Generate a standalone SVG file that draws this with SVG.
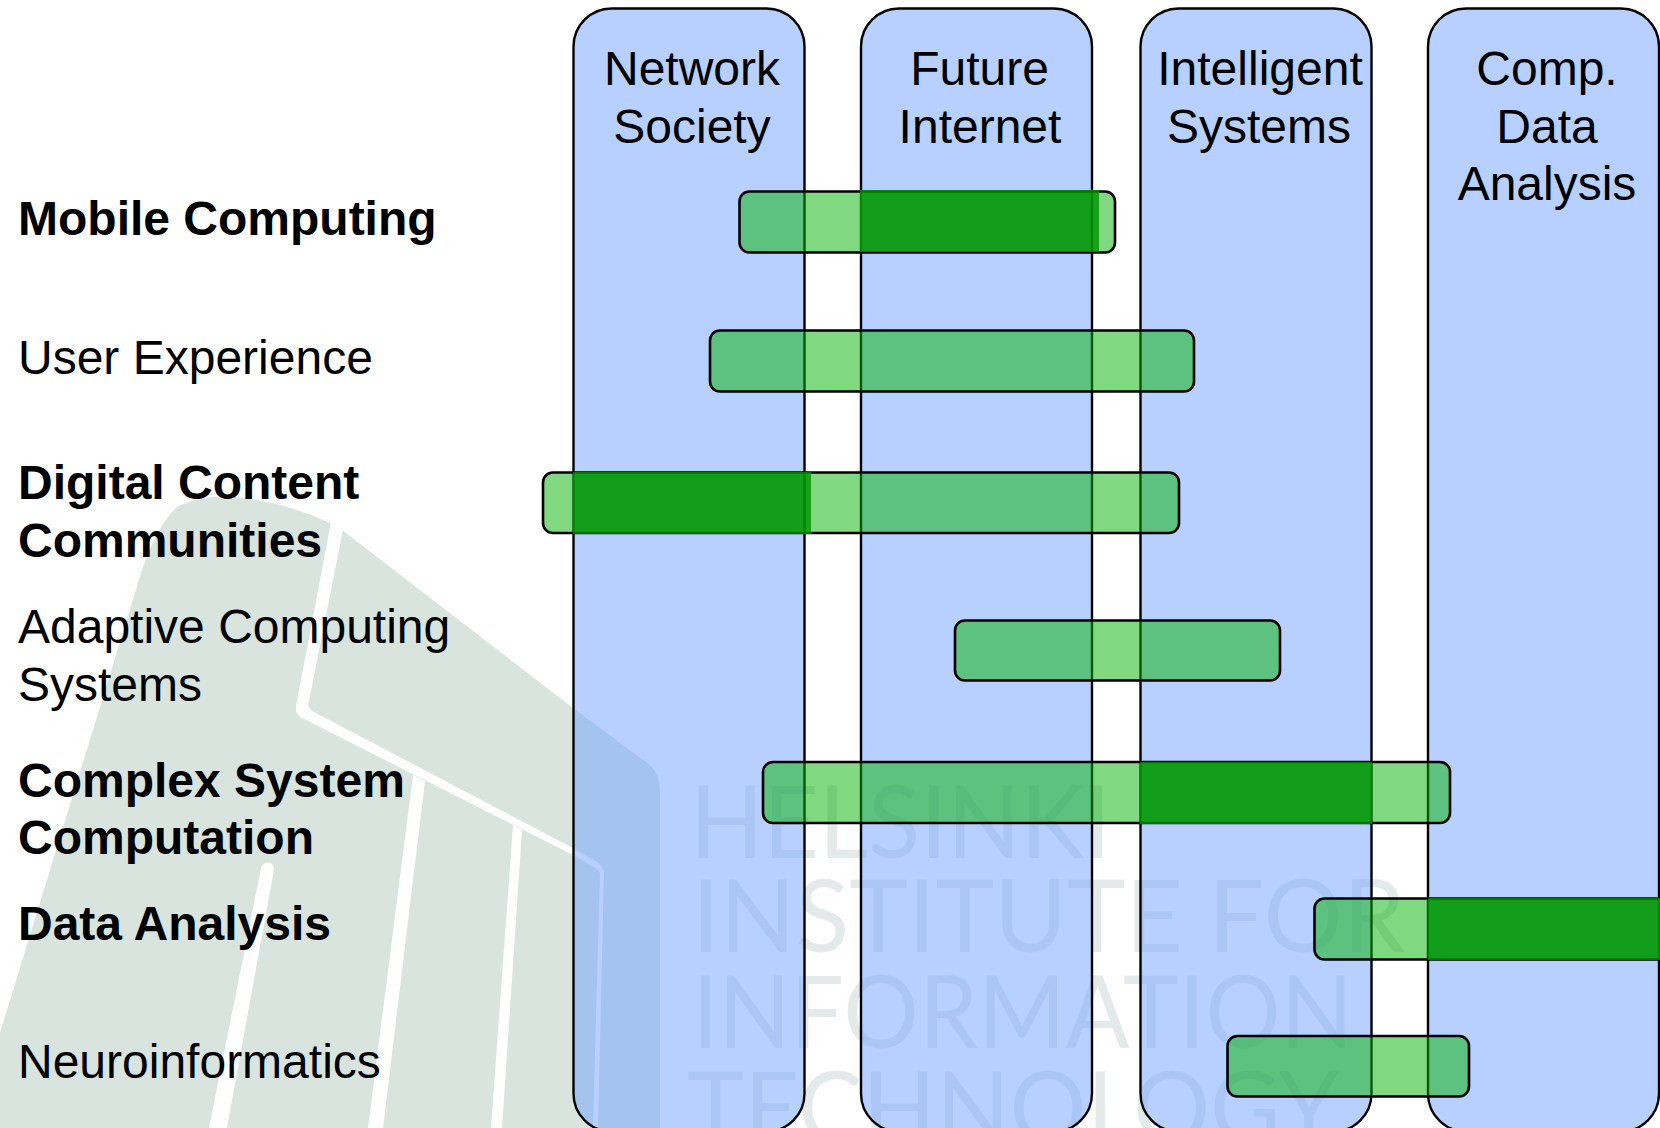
<svg xmlns="http://www.w3.org/2000/svg" width="1660" height="1128" viewBox="0 0 1660 1128">
<style>
text{font-family:"Liberation Sans",Arial,sans-serif;font-size:48px;fill:#000}
.b{font-weight:700}
.c{text-anchor:middle}
.wm{font-family:Lato,"Open Sans",sans-serif;font-weight:400;font-size:100px;fill:#e4e9ea}
.col{fill:#71a1ff;fill-opacity:.5}
.line{fill:none;stroke:#000;stroke-width:2.4}
.bar{fill:#01b101;fill-opacity:.5;stroke:#000;stroke-width:2.6}
.over{fill:#009400;fill-opacity:.8}
</style>
<rect width="1660" height="1128" fill="#fff"/>
<g id="watermark">
<path d="M0 1033L143 567Q158 525 177 507Q200 494 235 497Q285 502 330 523L342 530L573 708L650 765Q660 775 660 793V1128H0Z" fill="#d9e4df"/>
<path fill="#fff" d="M331 522L343 530L308 706L312 711L573 848L600 864L604 871L598 1128H593L600 873L597 869L573 855L300 717L296 712L296 706Z"/>
<path fill="#fff" d="M413 775L425 781L383 1128H368Z"/>
<path fill="#fff" d="M513 825L522 830L502 1128H491Z"/>
<path fill="#fff" d="M261 868A6 6 0 0 1 274 870L227 1128H209Z"/>
<text class="wm" x="690" y="858" textLength="421" lengthAdjust="spacingAndGlyphs">HELSINKI</text>
<text class="wm" x="692" y="952" textLength="713" lengthAdjust="spacingAndGlyphs">INSTITUTE FOR</text>
<text class="wm" x="692" y="1048" textLength="661" lengthAdjust="spacingAndGlyphs">INFORMATION</text>
<text class="wm" x="687" y="1144" textLength="652" lengthAdjust="spacingAndGlyphs">TECHNOLOGY</text>
</g>
<g id="columns">
<g id="col-network"><rect class="col" x="573.500" y="8.500" width="231" height="1123" rx="38"/><rect class="line" x="573.500" y="8.500" width="231" height="1123" rx="38"/></g>
<g id="col-future"><rect class="col" x="861" y="8.500" width="231" height="1123" rx="38"/><rect class="line" x="861" y="8.500" width="231" height="1123" rx="38"/></g>
<g id="col-intelligent"><rect class="col" x="1140.500" y="8.500" width="231" height="1123" rx="38"/><rect class="line" x="1140.500" y="8.500" width="231" height="1123" rx="38"/></g>
<g id="col-comp"><rect class="col" x="1428" y="8.500" width="231" height="1123" rx="38"/><rect class="line" x="1428" y="8.500" width="231" height="1123" rx="38"/></g>
</g>
<g id="bars">
<g id="bar-mobile"><rect class="bar" x="739.500" y="191.500" width="375.500" height="61" rx="10"/><rect class="over" x="860" y="190" width="239" height="62"/></g>
<g id="bar-user"><rect class="bar" x="710" y="330.500" width="484" height="61" rx="10"/></g>
<g id="bar-digital"><rect class="bar" x="543" y="472.500" width="636" height="60.500" rx="10"/><rect class="over" x="573" y="472" width="238" height="62"/></g>
<g id="bar-adaptive"><rect class="bar" x="955" y="620.500" width="325" height="60" rx="10"/></g>
<g id="bar-complex"><rect class="bar" x="763" y="762" width="687" height="61" rx="10"/><rect class="over" x="1140" y="762" width="232" height="62"/></g>
<g id="bar-data"><rect class="bar" x="1314.500" y="898.500" width="400" height="61" rx="10"/><rect class="over" x="1428" y="898" width="240" height="62"/></g>
<g id="bar-neuro"><rect class="bar" x="1227.500" y="1036" width="241.500" height="60.500" rx="10"/></g>
</g>
<g id="col-labels">
<text class="c" x="692" y="85">Network</text><text class="c" x="692" y="143">Society</text>
<text class="c" x="979.500" y="85">Future</text><text class="c" x="980" y="143">Internet</text>
<text class="c" x="1260" y="85">Intelligent</text><text class="c" x="1259" y="143">Systems</text>
<text class="c" x="1547" y="85">Comp.</text><text class="c" x="1547" y="143">Data</text><text class="c" x="1547" y="200">Analysis</text>
</g>
<g id="row-labels">
<text class="b" x="18" y="235">Mobile Computing</text>
<text x="18" y="374">User Experience</text>
<text class="b" x="18" y="499">Digital Content</text><text class="b" x="18" y="557">Communities</text>
<text x="18" y="643">Adaptive Computing</text><text x="18" y="701">Systems</text>
<text class="b" x="18" y="797">Complex System</text><text class="b" x="18" y="854">Computation</text>
<text class="b" x="18" y="940">Data Analysis</text>
<text x="18" y="1078">Neuroinformatics</text>
</g>
</svg>
